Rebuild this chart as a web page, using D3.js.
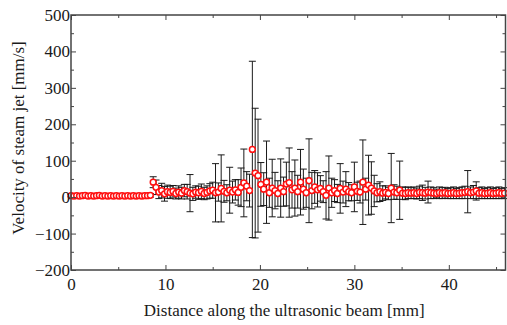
<!DOCTYPE html>
<html><head><meta charset="utf-8">
<script src="https://cdn.jsdelivr.net/npm/d3@7"></script>
<style>body{margin:0;background:#fff}svg{display:block}</style>
</head><body>
<svg id="c" width="507" height="325"></svg>
<script>
const distance = [0.0,0.3,0.6,0.9,1.2,1.5,1.8,2.1,2.4,2.7,3.0,3.3,3.6,3.9,4.2,4.5,4.8,5.1,5.4,5.7,6.0,6.3,6.6,6.9,7.2,7.5,7.8,8.1,8.4,8.7,9.0,9.3,9.6,9.9,10.2,10.5,10.8,11.1,11.4,11.7,12.0,12.3,12.6,12.9,13.2,13.5,13.8,14.1,14.4,14.7,15.0,15.3,15.6,15.9,16.2,16.5,16.8,17.1,17.4,17.7,18.0,18.3,18.6,18.9,19.2,19.5,19.8,20.1,20.4,20.7,21.0,21.3,21.6,21.9,22.2,22.5,22.8,23.1,23.4,23.7,24.0,24.3,24.6,24.9,25.2,25.5,25.8,26.1,26.4,26.7,27.0,27.3,27.6,27.9,28.2,28.5,28.8,29.1,29.4,29.7,30.0,30.3,30.6,30.9,31.2,31.5,31.8,32.1,32.4,32.7,33.0,33.3,33.6,33.9,34.2,34.5,34.8,35.1,35.4,35.7,36.0,36.3,36.6,36.9,37.2,37.5,37.8,38.1,38.4,38.7,39.0,39.3,39.6,39.9,40.2,40.5,40.8,41.1,41.4,41.7,42.0,42.3,42.6,42.9,43.2,43.5,43.8,44.1,44.4,44.7,45.0,45.3,45.6,45.9];
const velocity = [4,3,4,3,4,5,3,4,3,4,5,3,4,3,4,3,4,3,4,3,4,3,4,3,4,3,4,4,5,41,27,14,18,9,15,13,16,10,14,11,18,15,11,9,14,12,16,10,13,17,19,12,14,24,16,12,19,14,20,13,27,39,30,18,131,66,59,35,22,41,12,25,18,10,25,15,36,40,20,25,15,41,22,12,45,18,28,20,24,15,5,25,12,18,10,24,14,22,15,12,28,16,14,41,22,33,25,17,12,15,11,13,10,25,14,12,19,11,10,12,11,12,10,13,12,11,14,12,11,10,12,11,12,10,11,12,10,11,12,13,15,12,14,17,11,12,10,11,12,10,11,12,10,11];
const stdev = [3,3,3,3,3,3,3,3,3,3,3,3,3,3,3,3,3,3,3,3,3,3,3,3,3,3,4,4,5,15,20,18,20,20,18,17,16,15,17,16,17,20,51,18,17,18,20,17,18,20,22,80,25,92,30,22,63,30,28,35,53,93,40,45,242,178,155,60,45,113,40,79,50,35,80,40,60,95,50,77,45,90,55,40,115,50,45,47,35,30,65,88,40,30,25,68,30,48,25,22,68,25,30,116,30,82,72,43,25,27,20,18,17,95,20,18,80,17,17,16,15,16,15,17,21,16,30,16,15,12,16,15,15,14,15,16,14,15,16,17,58,16,18,25,15,16,14,15,16,14,15,16,14,15];
const xTicks = [0,10,20,30,40];
const yTicks = [-200,-100,0,100,200,300,400,500];

const svg = d3.select('#c');
const L = 71, R = 505.5, T = 15, B = 270;
const x = d3.scaleLinear().domain([0,46]).range([L,R]);
const y = d3.scaleLinear().domain([-200,500]).range([B,T]);
const font = '"Liberation Serif","Times New Roman",serif';
const axisCol = '#444';
const fs = 17;

const data = distance.map((d,i)=>({x:d, v:velocity[i], e:stdev[i]}));

const plot = svg.append('g');
const eb = plot.append('g').attr('stroke','#1a1a1a').attr('stroke-width',1).attr('fill','none');
data.forEach(d=>{
  const cx = x(d.x), y1 = y(d.v+d.e), y0 = y(d.v-d.e);
  eb.append('line').attr('x1',cx).attr('x2',cx).attr('y1',y1).attr('y2',y0);
  eb.append('line').attr('x1',cx-3.5).attr('x2',cx+3.5).attr('y1',y1).attr('y2',y1);
  eb.append('line').attr('x1',cx-3.5).attr('x2',cx+3.5).attr('y1',y0).attr('y2',y0);
});
plot.append('g').selectAll('circle').data(data).join('circle')
  .attr('cx',d=>x(d.x)).attr('cy',d=>y(d.v)).attr('r',2.9)
  .attr('fill','#fff').attr('stroke','#ff1010').attr('stroke-width',1.5);

const axG = svg.append('g');
function styleAxis(g){
  g.select('.domain').remove();
  g.selectAll('line').attr('stroke',axisCol).attr('stroke-width',1);
  g.selectAll('text').attr('font-family',font).attr('font-size',fs).attr('fill','#1a1a1a');
}
const xMinor = d3.range(0,47,5).filter(v=>v%10!==0);
const yMinor = d3.range(-200,501,50).filter(v=>v%100!==0);

const gb = axG.append('g').attr('transform',`translate(0,${B})`)
  .call(d3.axisBottom(x).tickValues(xTicks).tickSizeInner(-5).tickSizeOuter(0).tickPadding(8).tickFormat(d3.format('d')));
styleAxis(gb);
axG.append('g').attr('transform',`translate(0,${B})`)
  .call(d3.axisBottom(x).tickValues(xMinor).tickSize(-3).tickFormat('')).call(styleAxis);
axG.append('g').attr('transform',`translate(0,${T})`)
  .call(d3.axisTop(x).tickValues(xTicks).tickSize(-5).tickFormat('')).call(styleAxis);
axG.append('g').attr('transform',`translate(0,${T})`)
  .call(d3.axisTop(x).tickValues(xMinor).tickSize(-3).tickFormat('')).call(styleAxis);
const gl = axG.append('g').attr('transform',`translate(${L},0)`)
  .call(d3.axisLeft(y).tickValues(yTicks).tickSizeInner(-5).tickSizeOuter(0).tickPadding(1).tickFormat(d3.format('d')));
styleAxis(gl);
axG.append('g').attr('transform',`translate(${L},0)`)
  .call(d3.axisLeft(y).tickValues(yMinor).tickSize(-3).tickFormat('')).call(styleAxis);
axG.append('g').attr('transform',`translate(${R},0)`)
  .call(d3.axisRight(y).tickValues(yTicks).tickSize(-5).tickFormat('')).call(styleAxis);
axG.append('g').attr('transform',`translate(${R},0)`)
  .call(d3.axisRight(y).tickValues(yMinor).tickSize(-3).tickFormat('')).call(styleAxis);

svg.append('rect').attr('x',L).attr('y',T).attr('width',R-L).attr('height',B-T)
  .attr('fill','none').attr('stroke',axisCol).attr('stroke-width',1.5);

svg.append('text').attr('x',(L+R)/2 - 4).attr('y',316).attr('text-anchor','middle')
  .attr('font-family',font).attr('font-size',fs).attr('fill','#1a1a1a')
  .text('Distance along the ultrasonic beam [mm]');
svg.append('text').attr('transform',`translate(24,138) rotate(-90)`).attr('text-anchor','middle')
  .attr('font-family',font).attr('font-size',fs).attr('fill','#1a1a1a')
  .text('Velocity of steam jet [mm/s]');
</script>
</body></html>
